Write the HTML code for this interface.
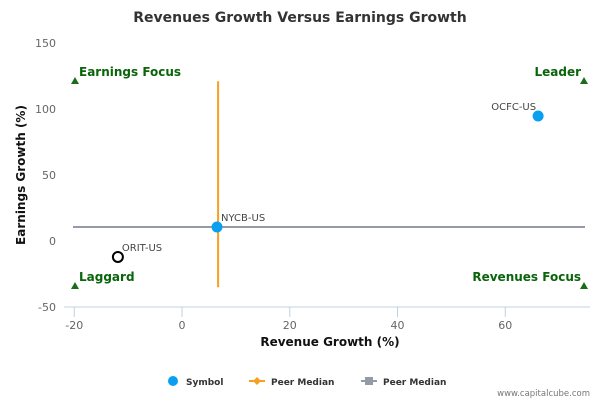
<!DOCTYPE html>
<html><head><meta charset="utf-8"><style>
body{margin:0;background:#fff;font-family:"DejaVu Sans",sans-serif}
</style></head><body>
<svg width="600" height="400" xmlns="http://www.w3.org/2000/svg" font-family="DejaVu Sans, sans-serif">
<text x="300" y="22" text-anchor="middle" font-size="14" font-weight="bold" fill="#333">Revenues Growth Versus Earnings Growth</text>
<g id="grid"></g>
<g id="marks"></g>
<text x="330" y="346" text-anchor="middle" font-size="12" font-weight="bold" fill="#111">Revenue Growth (%)</text>
<text transform="translate(25,175) rotate(-90)" text-anchor="middle" font-size="12" font-weight="bold" fill="#111">Earnings Growth (%)</text>
<g font-size="9" font-weight="bold" fill="#333">
<g><circle cx="173" cy="381" r="5" fill="#0a9ff0"/><text x="186" y="385">Symbol</text></g>
<g><line x1="249" y1="381" x2="265" y2="381" stroke="#f5a020" stroke-width="2"/><path d="M257 377 L261 381 L257 385 L253 381Z" fill="#f5a020"/><text x="271" y="385">Peer Median</text></g>
<g><line x1="361" y1="381" x2="377" y2="381" stroke="#959ba6" stroke-width="2"/><rect x="365" y="377" width="8" height="8" fill="#959ba6"/><text x="383" y="385">Peer Median</text></g>
</g>
<text x="590" y="396" text-anchor="end" font-size="8.5" fill="#777">www.capitalcube.com</text>
</svg>
<script>
const xTicks=[-20,0,20,40,60];
const yTicks=[150,100,50,0,-50];
const symbols=["OCFC-US","NYCB-US","ORIT-US"];
const revGrowth=[66.1,6.5,-11.9];
const earnGrowth=[94.7,10.6,-12.1];
const medianRev=[6.7];
const medianEarn=[10.6];
const quadrantLabels=["Earnings Focus","Leader","Laggard","Revenues Focus"];
const NS="http://www.w3.org/2000/svg";
const X=v=>182+v*5.3875, Y=v=>241-v*1.32;
function mk(t,a,p){const e=document.createElementNS(NS,t);for(const k in a)e.setAttribute(k,a[k]);p.appendChild(e);return e;}
const g=document.getElementById('grid'), m=document.getElementById('marks');
const ax=mk('line',{x1:64,y1:307,x2:590,y2:307,stroke:'#c0d0e0'},g);


xTicks.forEach(v=>{
 const l=mk('line',{x1:X(v),y1:307,x2:X(v),y2:317,stroke:'#c0d0e0'},g);
 
 
 const t=mk('text',{x:X(v),y:329,'text-anchor':'middle','font-size':11,fill:'#666'},g);t.textContent=v;
 
 
});
yTicks.forEach(v=>{
 const t=mk('text',{x:56,y:Y(v)+4,'text-anchor':'end','font-size':11,fill:'#666'},g);t.textContent=v;
 
 
});
const qx=[75,584],qy=[81,286];
const qpos=[[0,0],[1,0],[0,1],[1,1]];
qpos.forEach((p,i)=>{
 const x=qx[p[0]],y=qy[p[1]];
 const tr=mk('path',{d:`M${x} ${y-4} L${x+4} ${y+3} L${x-4} ${y+3}Z`,fill:'#1a6e1a'},m);
 
 
 const t=mk('text',{x:p[0]?581:79,y:y-5,'text-anchor':p[0]?'end':'start','font-size':12,'font-weight':'bold',fill:'#0a640a'},m);
 t.textContent=quadrantLabels[i];
 
 
});
const hl=mk('line',{x1:73,y1:Y(medianEarn[0]),x2:585,y2:Y(medianEarn[0]),stroke:'#959ba6','stroke-width':2},m);


const vl=mk('line',{x1:X(medianRev[0]),y1:Y(121),x2:X(medianRev[0]),y2:Y(-35),stroke:'#f5a020','stroke-width':2},m);


symbols.forEach((s,i)=>{
 const cx=X(revGrowth[i]),cy=Y(earnGrowth[i]);
 const hollow=s==="ORIT-US";
 const c=mk('circle',{cx,cy,r:5,fill:hollow?'#fff':'#0a9ff0',stroke:hollow?'#000':'#0a9ff0','stroke-width':hollow?2:1},m);
 
 
 const left=s==="OCFC-US";
 const t=mk('text',{x:left?cx-2:cx+4,y:cy-6,'text-anchor':left?'end':'start','font-size':10,fill:'#444'},m);
 t.textContent=s;
 
 
});
</script>
</body></html>
